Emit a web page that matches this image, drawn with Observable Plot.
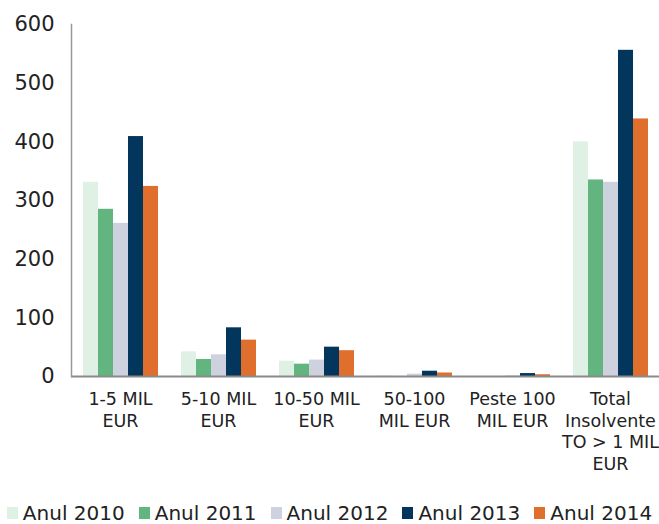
<!DOCTYPE html>
<html>
<head>
<meta charset="utf-8">
<script src="https://cdn.jsdelivr.net/npm/d3@7"></script>
<script src="https://cdn.jsdelivr.net/npm/@observablehq/plot@0.6"></script>
<style>
  html, body { margin: 0; padding: 0; background: #fff; }
  #chart { width: 659px; font-family: "DejaVu Sans", sans-serif; color: #222; }
  .legend { display: flex; justify-content: center; align-items: center; height: 20px; line-height: 20px; margin-top: 13px; font-size: 20px; color: #222; white-space: nowrap; }
  .legend .item { display: flex; align-items: center; margin: 0 7px; flex-shrink: 0; white-space: nowrap; line-height: 20px; }
  .legend .sw { width: 11px; height: 12px; margin-right: 5px; display: inline-block; flex-shrink: 0; }
</style>
</head>
<body>
<div id="chart"></div>
<script>
const categories = ["1-5 MIL\nEUR", "5-10 MIL\nEUR", "10-50 MIL\nEUR", "50-100\nMIL EUR", "Peste 100\nMIL EUR", "Total\nInsolvente\nTO > 1 MIL\nEUR"];
const years = ["Anul 2010", "Anul 2011", "Anul 2012", "Anul 2013", "Anul 2014"];
const colors = ["#dff1e5", "#62b57e", "#cdd2de", "#03365d", "#e06e2c"];
const v2010 = [331, 42, 26, 1, 0, 400];
const v2011 = [285, 29, 21, 0, 0, 335];
const v2012 = [261, 37, 28, 4, 1, 331];
const v2013 = [409, 83, 50, 9, 5, 556];
const v2014 = [324, 62, 44, 6, 3, 439];
const yTicks = [0, 100, 200, 300, 400, 500, 600];

const series = [v2010, v2011, v2012, v2013, v2014];
const data = [];
categories.forEach((c, i) => years.forEach((y, j) => data.push({cat: c, year: y, value: series[j][i]})));

const plot = Plot.plot({
  width: 659,
  height: 490,
  marginLeft: 70,
  marginRight: 0,
  marginTop: 24,
  marginBottom: 114,
  style: {fontFamily: "DejaVu Sans, sans-serif", color: "#222", background: "#fff"},
  fx: {domain: categories, padding: 0, label: null},
  x: {domain: years, paddingInner: 0, paddingOuter: 0.757, axis: null},
  y: {domain: [0, 600], label: null},
  color: {domain: years, range: colors},
  marks: [
    Plot.barY(data, {fx: "cat", x: "year", y: "value", fill: "year"}),
    Plot.ruleY([0], {stroke: "#8a8a8a", strokeWidth: 2}),
    Plot.frame({anchor: "left", facetAnchor: "left", stroke: "#999", strokeWidth: 1.5}),
    Plot.axisY({ticks: yTicks, tickSize: 0, tickPadding: 17, fontSize: 21, label: null, fill: "#222"}),
    Plot.axisFx({anchor: "bottom", tickSize: 0, tickPadding: 13, fontSize: 17.5, lineHeight: 1.24, label: null, fill: "#222"})
  ]
});
document.getElementById("chart").appendChild(plot);

const legend = document.createElement("div");
legend.className = "legend";
years.forEach((y, j) => {
  const item = document.createElement("span");
  item.className = "item";
  const sw = document.createElement("span");
  sw.className = "sw";
  sw.style.background = colors[j];
  item.appendChild(sw);
  item.appendChild(document.createTextNode(y));
  legend.appendChild(item);
});
document.getElementById("chart").appendChild(legend);
</script>
</body>
</html>
